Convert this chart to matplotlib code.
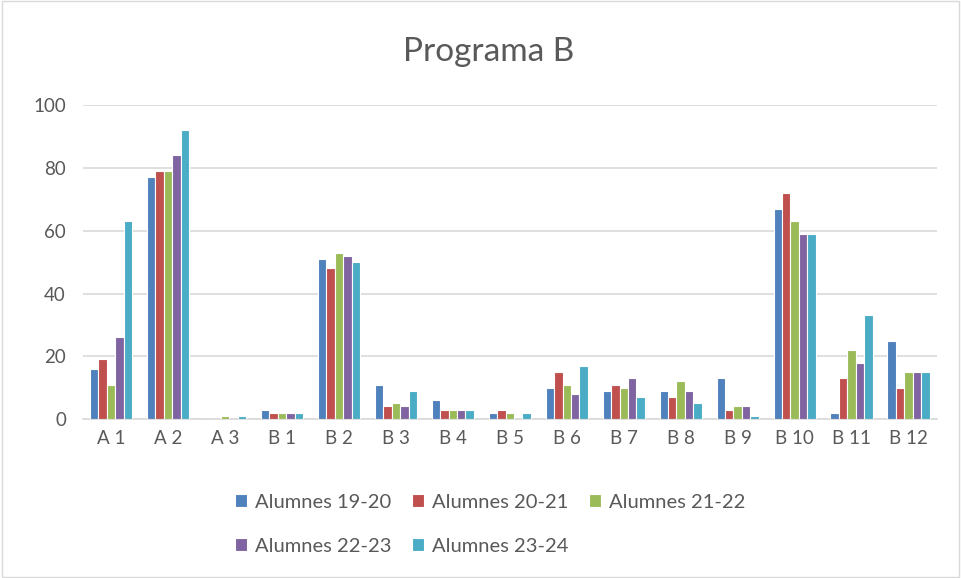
import numpy as np
import matplotlib
matplotlib.use('Agg')
import matplotlib.pyplot as plt

plt.rcParams['font.family'] = ['Lato', 'DejaVu Sans']

categories = ['A 1', 'A 2', 'A 3', 'B 1', 'B 2', 'B 3', 'B 4', 'B 5', 'B 6',
              'B 7', 'B 8', 'B 9', 'B 10', 'B 11', 'B 12']
series_names = ['Alumnes 19-20', 'Alumnes 20-21', 'Alumnes 21-22',
                'Alumnes 22-23', 'Alumnes 23-24']
alumnes_19_20 = [16, 77, 0, 3, 51, 11, 6, 2, 10, 9, 9, 13, 67, 2, 25]
alumnes_20_21 = [19, 79, 0, 2, 48, 4, 3, 3, 15, 11, 7, 3, 72, 13, 10]
alumnes_21_22 = [11, 79, 1, 2, 53, 5, 3, 2, 11, 10, 12, 4, 63, 22, 15]
alumnes_22_23 = [26, 84, 0, 2, 52, 4, 3, 0, 8, 13, 9, 4, 59, 18, 15]
alumnes_23_24 = [63, 92, 1, 2, 50, 9, 3, 2, 17, 7, 5, 1, 59, 33, 15]
colors = ['#4F81BD', '#C0504D', '#9BBB59', '#8064A2', '#4BACC6']

series = [alumnes_19_20, alumnes_20_21, alumnes_21_22, alumnes_22_23, alumnes_23_24]

fig = plt.figure(figsize=(9.61, 5.78), dpi=100)
ax = fig.add_axes([0.086, 0.275, 0.889, 0.543])

x = np.arange(len(categories))
w = 0.148
handles = []
for k, (vals, name, c) in enumerate(zip(series, series_names, colors)):
    b = ax.bar(x + (k - 2) * w, vals, w, color=c, edgecolor='white',
               linewidth=0.8, label=name, zorder=3)
    handles.append(b)

ax.set_xlim(-0.5, len(categories) - 0.5)
ax.set_ylim(0, 100)
ax.set_yticks(range(0, 101, 20))
ax.set_xticks(x)
ax.set_xticklabels(categories)
ax.yaxis.grid(True, color='#D9D9D9', linewidth=1.2, zorder=0)
ax.tick_params(axis='both', length=0, labelsize=13.5, colors='#595959', pad=8)
ax.tick_params(axis='y', pad=12)
for s in ['top', 'right', 'left']:
    ax.spines[s].set_visible(False)
ax.spines['bottom'].set_color('#D9D9D9')
ax.spines['bottom'].set_linewidth(1.2)

fig.text(0.508, 0.91, 'Programa B', ha='center', va='center',
         fontsize=24, color='#595959')

# reorder so rows read 1,2,3 / 4,5
order = [0, 3, 1, 4, 2]
leg = fig.legend([handles[i] for i in order], [series_names[i] for i in order],
                 ncol=3, loc='center', bbox_to_anchor=(0.51, 0.093),
                 frameon=False, fontsize=14.5, labelcolor='#595959',
                 handlelength=0.6, handleheight=0.6, handletextpad=0.4,
                 columnspacing=1.0, labelspacing=1.35)

# chart border
fig.patches.append(plt.Rectangle((0.002, 0.002), 0.996, 0.996,
                                 transform=fig.transFigure, fill=False,
                                 edgecolor='#D9D9D9', linewidth=1))

fig.savefig('out.png', dpi=100)
